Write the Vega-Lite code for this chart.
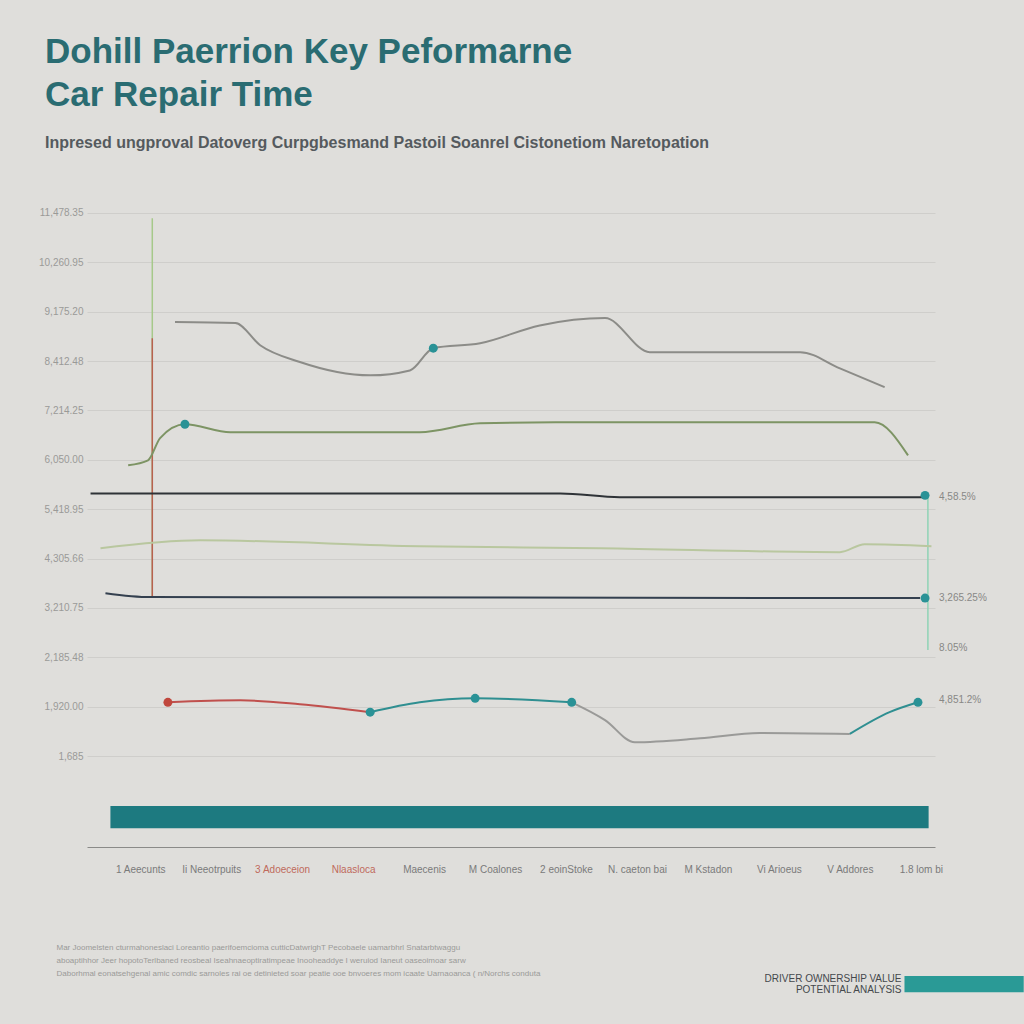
{
  "$schema": "https://vega.github.io/schema/vega-lite/v6.json",
  "autosize": {"type": "none"},
  "padding": {"left": 87, "top": 203, "right": 89, "bottom": 177},
  "width": 848,
  "height": 644,
  "background": "#dfdedb",
  "config": {
    "view": {"stroke": null},
    "font": "Liberation Sans"
  },
  "title": {
    "text": ["Dohill Paerrion Key Peformarne", "Car Repair Time"],
    "subtitle": "Inpresed ungproval Datoverg Curpgbesmand Pastoil Soanrel Cistonetiom Naretopation",
    "anchor": "start",
    "frame": "group",
    "dx": -42,
    "offset": 52,
    "fontSize": 35,
    "lineHeight": 43,
    "fontWeight": "bold",
    "color": "#2a6c72",
    "subtitleFontSize": 16,
    "subtitleFontWeight": "bold",
    "subtitleColor": "#555a5e",
    "subtitlePadding": 22
  },
  "datasets": {
    "lines": [
      {"series": "A", "x": 0.49, "y": 87.9},
      {"series": "A", "x": 1.34, "y": 87.7},
      {"series": "A", "x": 1.69, "y": 83.2},
      {"series": "A", "x": 2.25, "y": 79.8},
      {"series": "A", "x": 3.24, "y": 77.1},
      {"series": "A", "x": 3.8, "y": 78.1},
      {"series": "A", "x": 4.13, "y": 82.6},
      {"series": "A", "x": 4.79, "y": 83.6},
      {"series": "A", "x": 5.63, "y": 87.2},
      {"series": "A", "x": 6.55, "y": 88.7},
      {"series": "A", "x": 7.18, "y": 81.8},
      {"series": "A", "x": 9.3, "y": 81.8},
      {"series": "A", "x": 9.86, "y": 78.5},
      {"series": "A", "x": 10.49, "y": 74.7},
      {"series": "B", "x": -0.17, "y": 58.9},
      {"series": "B", "x": 0.11, "y": 59.9},
      {"series": "B", "x": 0.28, "y": 64.4},
      {"series": "B", "x": 0.63, "y": 67.2},
      {"series": "B", "x": 1.27, "y": 65.6},
      {"series": "B", "x": 3.94, "y": 65.6},
      {"series": "B", "x": 4.79, "y": 67.4},
      {"series": "B", "x": 5.85, "y": 67.6},
      {"series": "B", "x": 10.35, "y": 67.6},
      {"series": "B", "x": 10.82, "y": 60.9},
      {"series": "C", "x": -0.7, "y": 53.2},
      {"series": "C", "x": 5.92, "y": 53.2},
      {"series": "C", "x": 6.76, "y": 52.4},
      {"series": "C", "x": 11.06, "y": 52.4},
      {"series": "D", "x": -0.56, "y": 42.1},
      {"series": "D", "x": 0.85, "y": 43.7},
      {"series": "D", "x": 3.94, "y": 42.5},
      {"series": "D", "x": 6.48, "y": 42.1},
      {"series": "D", "x": 9.86, "y": 41.3},
      {"series": "D", "x": 10.21, "y": 42.9},
      {"series": "D", "x": 11.15, "y": 42.5},
      {"series": "E", "x": -0.49, "y": 33.0},
      {"series": "E", "x": 0.14, "y": 32.2},
      {"series": "E", "x": 10.99, "y": 32.0},
      {"series": "R", "x": 0.39, "y": 10.9},
      {"series": "R", "x": 1.41, "y": 11.3},
      {"series": "R", "x": 2.25, "y": 10.5},
      {"series": "R", "x": 3.24, "y": 8.9},
      {"series": "T1", "x": 3.24, "y": 8.9},
      {"series": "T1", "x": 3.94, "y": 10.9},
      {"series": "T1", "x": 4.72, "y": 11.7},
      {"series": "T1", "x": 6.08, "y": 10.9},
      {"series": "G", "x": 6.08, "y": 10.9},
      {"series": "G", "x": 6.55, "y": 7.3},
      {"series": "G", "x": 6.97, "y": 2.8},
      {"series": "G", "x": 7.89, "y": 3.6},
      {"series": "G", "x": 8.73, "y": 4.7},
      {"series": "G", "x": 10.0, "y": 4.5},
      {"series": "T2", "x": 10.0, "y": 4.5},
      {"series": "T2", "x": 10.56, "y": 8.9},
      {"series": "T2", "x": 10.96, "y": 10.9}
    ],
    "points": [
      {"kind": "teal", "x": 4.13, "y": 82.6},
      {"kind": "teal", "x": 0.63, "y": 67.2},
      {"kind": "teal", "x": 11.06, "y": 52.8},
      {"kind": "teal", "x": 11.06, "y": 32.0},
      {"kind": "red", "x": 0.39, "y": 10.9},
      {"kind": "teal", "x": 3.24, "y": 8.9},
      {"kind": "teal", "x": 4.72, "y": 11.7},
      {"kind": "teal", "x": 6.08, "y": 10.9},
      {"kind": "teal", "x": 10.96, "y": 10.9}
    ],
    "vrules": [
      {"series": "VG", "x": 0.17, "y": 108.9, "y2": 32.0},
      {"series": "VR", "x": 0.17, "y": 84.6, "y2": 32.0},
      {"series": "VT", "x": 11.1, "y": 53.2, "y2": 21.5}
    ],
    "band": [
      {"kind": "main", "x": -0.42, "x2": 11.11, "y": -10.1, "y2": -14.6},
      {"kind": "footer", "x": 10.77, "x2": 12.45, "y": -44.5, "y2": -47.8}
    ],
    "endlabels": [
      {"x": 11.2, "y": 52.4, "label": "4,58.5%"},
      {"x": 11.2, "y": 32.0, "label": "3,265.25%"},
      {"x": 11.2, "y": 21.9, "label": "8.05%"},
      {"x": 11.2, "y": 11.3, "label": "4,851.2%"}
    ]
  },
  "layer": [
    {
      "data": {"name": "band"},
      "mark": {"type": "rect", "clip": false},
      "encoding": {
        "x": {
          "field": "x", "type": "quantitative",
          "scale": {"domain": [-0.75, 11.2], "nice": false, "zero": false},
          "axis": {
            "values": [0, 1, 2, 3, 4, 5, 6, 7, 8, 9, 10, 11],
            "labelExpr": "['1 Aeecunts','Ii Neeotrpuits','3 Adoeceion','Nlaasloca','Maecenis','M Coalones','2 eoinStoke','N. caeton bai','M Kstadon','Vi Arioeus','V Addores','1.8 lom bi'][datum.value]",
            "labelColor": {"condition": {"test": "datum.value == 2 || datum.value == 3", "value": "#c06a5c"}, "value": "#7a7a7a"},
            "labelFontSize": 10,
            "labelPadding": 17,
            "labelFlush": false,
            "ticks": false,
            "grid": false,
            "domain": true,
            "domainColor": "#8a8a88",
            "domainWidth": 1,
            "title": [
              "Mar Joomelsten cturmahoneslaci Loreantio paerifoemcioma cutticDatwrighT Pecobaele uamarbhrl Snatarbtwaggu",
              "aboaptihhor Jeer hopotoTerlbaned reosbeal Iseahnaeoptiratimpeae Inooheaddye I weruiod Ianeut oaseoimoar sarw",
              "Daborhmal eonatsehgenal amic comdic sarnoles rai oe detinieted soar peatie ooe bnvoeres mom icaate Uarnaoanca ( n/Norchs conduta"
            ],
            "titleFontSize": 8,
            "titleFontWeight": "normal",
            "titleColor": "#9a9a98",
            "titleAnchor": "start",
            "titleAlign": "left",
            "titleBaseline": "top",
            "titleLineHeight": 13,
            "titleX": -31,
            "titleY": 96
          }
        },
        "x2": {"field": "x2"},
        "y": {
          "field": "y", "type": "quantitative",
          "scale": {"domain": [-18.4, 112], "nice": false, "zero": false},
          "axis": {
            "values": [0, 10, 20, 30, 40, 50, 60, 70, 80, 90, 100, 110],
            "labelExpr": "['1,685','1,920.00','2,185.48','3,210.75','4,305.66','5,418.95','6,050.00','7,214.25','8,412.48','9,175.20','10,260.95','11,478.35'][datum.value/10]",
            "labelFontSize": 10,
            "labelColor": "#9a9a98",
            "labelPadding": 4,
            "ticks": false,
            "domain": false,
            "grid": true,
            "gridColor": "#cfcecb",
            "gridWidth": 1,
            "title": ["DRIVER OWNERSHIP VALUE", "POTENTIAL ANALYSIS"],
            "titleAngle": 0,
            "titleAlign": "right",
            "titleBaseline": "top",
            "titleFontSize": 10,
            "titleFontWeight": "normal",
            "titleColor": "#44484c",
            "titleLineHeight": 11,
            "titleX": 814,
            "titleY": 770
          }
        },
        "y2": {"field": "y2"},
        "color": {
          "field": "kind", "type": "nominal", "legend": null,
          "scale": {"domain": ["main", "footer"], "range": ["#1d7a80", "#2a9a96"]}
        }
      }
    },
    {
      "mark": {"type": "rule", "color": "#6c6c6a", "strokeWidth": 1.2},
      "encoding": {
        "y": {"datum": 0, "type": "quantitative"},
        "x": {"datum": -0.5, "type": "quantitative"},
        "x2": {"datum": 11.1}
      }
    },
    {
      "data": {"name": "vrules"},
      "mark": {"type": "rule"},
      "encoding": {
        "x": {"field": "x", "type": "quantitative"},
        "y": {"field": "y", "type": "quantitative"},
        "y2": {"field": "y2"},
        "stroke": {
          "field": "series", "type": "nominal", "legend": null,
          "scale": {
            "domain": ["A", "B", "C", "D", "E", "R", "T1", "G", "T2", "VG", "VR", "VT"],
            "range": ["#8c8c88", "#7d9464", "#2f3337", "#b9c79f", "#34404f", "#c0504d", "#2f8f91", "#9a9a98", "#2f8f91", "#a6c98a", "#b8614f", "#8fd3b5"]
          }
        },
        "strokeWidth": {
          "field": "series", "type": "nominal", "legend": null,
          "scale": {"domain": ["VG", "VR", "VT"], "range": [1.5, 1.5, 3]}
        }
      }
    },
    {
      "data": {"name": "lines"},
      "mark": {"type": "line", "interpolate": "monotone", "strokeWidth": 2},
      "encoding": {
        "x": {"field": "x", "type": "quantitative"},
        "y": {"field": "y", "type": "quantitative"},
        "detail": {"field": "series"},
        "stroke": {"field": "series", "type": "nominal", "legend": null}
      }
    },
    {
      "data": {"name": "points"},
      "mark": {"type": "point", "filled": true, "opacity": 1, "size": 80},
      "encoding": {
        "x": {"field": "x", "type": "quantitative"},
        "y": {"field": "y", "type": "quantitative"},
        "fill": {
          "field": "kind", "type": "nominal", "legend": null,
          "scale": {"domain": ["teal", "red"], "range": ["#2a9296", "#c0473d"]}
        }
      }
    },
    {
      "data": {"name": "endlabels"},
      "mark": {"type": "text", "align": "left", "dx": 4, "fontSize": 10, "color": "#888886", "clip": false},
      "encoding": {
        "x": {"field": "x", "type": "quantitative"},
        "y": {"field": "y", "type": "quantitative"},
        "text": {"field": "label"}
      }
    }
  ]
}
